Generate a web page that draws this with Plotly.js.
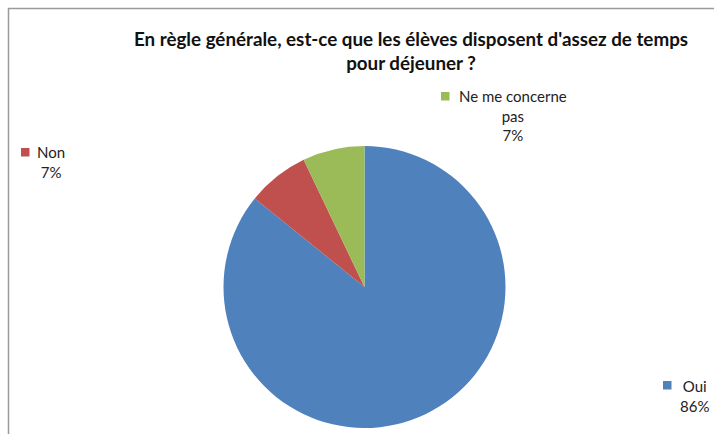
<!DOCTYPE html>
<html>
<head>
<meta charset="utf-8">
<script src="https://cdn.plot.ly/plotly-3.0.1.min.js"></script>
<style>html,body{margin:0;padding:0;background:#fff}#chart{width:714px;height:434px}</style>
</head>
<body>
<div id="chart"></div>
<script>
const titleText = "En règle générale, est-ce que les élèves disposent d'assez de temps<br>pour déjeuner ?";
const labels = ["Oui", "Non", "Ne me concerne pas"];
const labelLines = ["Oui", "Non", "Ne me concerne<br>pas"];
const values = [85.8, 7.1, 7.1];
const colors = ["#4F81BD", "#C0504D", "#9BBB59"];

const W = 714, H = 434;
const total = values.reduce((a, b) => a + b, 0);
const pcts = values.map(v => Math.round(v / total * 100) + "%");

// label block placement (text centre x, top y) and marker square
const labelPos = [
  {cx: 694, top: 375, mx: 663, my: 381},
  {cx: 51, top: 141, mx: 21, my: 148},
  {cx: 513, top: 85, mx: 441, my: 92}
];

const font = "Lato, 'Open Sans', sans-serif";
const annotations = labels.map((l, i) => ({
  xref: "paper", yref: "paper",
  x: labelPos[i].cx / W, y: 1 - labelPos[i].top / H,
  xanchor: "center", yanchor: "top",
  text: labelLines[i] + "<br>" + pcts[i],
  showarrow: false, align: "center",
  font: {family: font, size: 15, color: "#222"}
}));

const shapes = labels.map((l, i) => ({
  type: "rect", xref: "paper", yref: "paper",
  x0: labelPos[i].mx / W, x1: (labelPos[i].mx + 8.5) / W,
  y0: 1 - (labelPos[i].my + 8.5) / H, y1: 1 - labelPos[i].my / H,
  fillcolor: colors[i], line: {width: 0}
}));
shapes.push({type: "line", xref: "paper", yref: "paper", x0: 8 / W, x1: 1, y0: 1 - 8.5 / H, y1: 1 - 8.5 / H, line: {color: "#9a9a9a", width: 1.5}});
shapes.push({type: "line", xref: "paper", yref: "paper", x0: 8.5 / W, x1: 8.5 / W, y0: 0, y1: 1 - 8 / H, line: {color: "#9a9a9a", width: 1.5}});

const cx = 364.5, cy = 287, r = 141;
const data = [{
  type: "pie",
  labels: labels,
  values: values,
  sort: false,
  direction: "clockwise",
  rotation: 0,
  textinfo: "none",
  hoverinfo: "label+percent",
  marker: {colors: colors, line: {width: 0}},
  domain: {x: [(cx - r) / W, (cx + r) / W], y: [1 - (cy + r) / H, 1 - (cy - r) / H]},
  showlegend: false
}];

const layout = {
  width: W, height: H,
  margin: {l: 0, r: 0, t: 0, b: 0},
  paper_bgcolor: "#fff",
  title: {
    text: "<b>" + titleText + "</b>",
    x: 411 / W, xanchor: "center",
    y: 1 - 46 / H, yanchor: "top",
    font: {family: font, size: 18.8, color: "#111"}
  },
  annotations: annotations,
  shapes: shapes,
  showlegend: false
};

Plotly.newPlot("chart", data, layout, {displayModeBar: false, staticPlot: true});
</script>
</body>
</html>
